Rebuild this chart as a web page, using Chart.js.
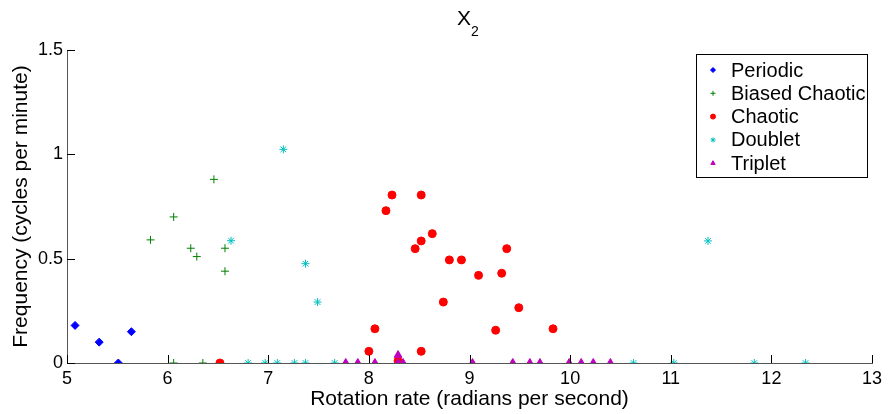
<!DOCTYPE html>
<html>
<head>
<meta charset="utf-8">
<script src="https://cdn.jsdelivr.net/npm/chart.js@4/dist/chart.umd.min.js"></script>
<style>
html, body { margin: 0; padding: 0; background: #fff; }
</style>
</head>
<body>
<canvas id="scatter-chart" width="889" height="414"></canvas>
<script>
(function () {
	"use strict";

	// values
	var periodicX = [5.08, 5.32, 5.51, 5.64];
	var periodicY = [0.18, 0.10, 0, 0.15];

	var biasedX = [5.83, 6.06, 6.06, 6.23, 6.29, 6.35, 6.46, 6.57, 6.57];
	var biasedY = [0.59, 0.70, 0, 0.55, 0.51, 0, 0.88, 0.55, 0.44];

	var chaoticX = [6.52, 8.00, 8.06, 8.17, 8.23, 8.29, 8.46, 8.52, 8.52, 8.52, 8.63, 8.74, 8.80, 8.92, 9.09, 9.26, 9.32, 9.37, 9.49, 9.83];
	var chaoticY = [0, 0.056, 0.164, 0.73, 0.805, 0.01, 0.548, 0.585, 0.805, 0.056, 0.62, 0.292, 0.494, 0.494, 0.42, 0.157, 0.43, 0.548, 0.265, 0.164];

	var doubletX = [6.63, 6.80, 6.97, 7.09, 7.15, 7.26, 7.37, 7.37, 7.49, 7.66, 10.63, 11.03, 11.37, 11.83, 12.34];
	var doubletY = [0.586, 0, 0, 0, 1.024, 0, 0, 0.476, 0.292, 0, 0, 0, 0.585, 0, 0];

	var tripletX = [7.77, 7.89, 8.06, 8.29, 8.29, 8.34, 9.03, 9.43, 9.60, 9.70, 9.99, 10.11, 10.23, 10.40];
	var tripletY = [0, 0, 0, 0.038, 0, 0, 0, 0, 0, 0, 0, 0, 0, 0];

	var xTicks = [5, 6, 7, 8, 9, 10, 11, 12, 13];
	var yTicks = [0, 0.5, 1, 1.5];

	function pts(xs, ys) {
		return xs.map(function (x, i) { return { x: x, y: ys[i] }; });
	}

	var FONT = "'Liberation Sans', Arial, Helvetica, sans-serif";

	var series = [
		{ label: "Periodic", data: pts(periodicX, periodicY), color: "#0000ff", style: "rectRot", r: 4 },
		{ label: "Biased Chaotic", data: pts(biasedX, biasedY), color: "#008000", style: "cross", r: 4 },
		{ label: "Chaotic", data: pts(chaoticX, chaoticY), color: "#ff0000", style: "circle", r: 4 },
		{ label: "Doublet", data: pts(doubletX, doubletY), color: "#00bfbf", style: "star", r: 4 },
		{ label: "Triplet", data: pts(tripletX, tripletY), color: "#bf00bf", style: "triangle", r: 4.5 },
	];

	// inward tick marks, title with subscript, boxed legend
	var decorations = {
		id: "decorations",
		afterDraw: function (chart) {
			var ctx = chart.ctx;
			var xs = chart.scales.x, ys = chart.scales.y;
			var area = chart.chartArea;
			ctx.save();
			ctx.strokeStyle = "#000";
			ctx.lineWidth = 1;
			xTicks.forEach(function (v) {
				var px = Math.round(xs.getPixelForValue(v)) + 0.5;
				ctx.beginPath();
				ctx.moveTo(px, area.bottom);
				ctx.lineTo(px, area.bottom - 8);
				ctx.stroke();
			});
			yTicks.forEach(function (v) {
				var py = Math.round(ys.getPixelForValue(v)) + 0.5;
				ctx.beginPath();
				ctx.moveTo(area.left, py);
				ctx.lineTo(area.left + 8, py);
				ctx.stroke();
			});

			// title X_2
			ctx.fillStyle = "#000";
			ctx.textBaseline = "alphabetic";
			ctx.textAlign = "left";
			ctx.font = "21px " + FONT;
			ctx.fillText("X", 457, 25);
			ctx.font = "14px " + FONT;
			ctx.fillText("2", 471, 36);

			// legend
			var lx = 696, ly = 54, lw = 171, lh = 123;
			ctx.fillStyle = "#fff";
			ctx.fillRect(lx, ly, lw, lh);
			ctx.strokeStyle = "#000";
			ctx.strokeRect(lx + 0.5, ly + 0.5, lw, lh);
			ctx.font = "20px " + FONT;
			ctx.textBaseline = "middle";
			series.forEach(function (s, i) {
				var cy = 70 + i * 23.3;
				ctx.fillStyle = s.color;
				ctx.strokeStyle = s.color;
				Chart.helpers.drawPoint(ctx, { pointStyle: s.style, rotation: 0, radius: 2.5, borderWidth: 1 }, 713, cy);
				ctx.fillStyle = "#000";
				ctx.fillText(s.label, 731, cy + 1);
			});
			ctx.restore();
		},
	};

	var ctx = document.getElementById("scatter-chart").getContext("2d");
	new Chart(ctx, {
		type: "scatter",
		data: {
			datasets: series.map(function (s, i) {
				return {
					label: s.label,
					data: s.data,
					pointStyle: s.style,
					pointRadius: s.r,
					backgroundColor: s.color,
					borderColor: s.color,
					borderWidth: 1,
					order: series.length - i,
				};
			}),
		},
		options: {
			responsive: false,
			animation: false,
			layout: { padding: { top: 50, right: 17, left: 0, bottom: 0 } },
			plugins: {
				legend: { display: false },
				tooltip: { enabled: false },
			},
			scales: {
				x: {
					type: "linear",
					min: 5,
					max: 13,
					afterBuildTicks: function (s) { s.ticks = xTicks.map(function (v) { return { value: v }; }); },
					ticks: { color: "#000", font: { size: 18, family: FONT }, padding: 5, callback: function (v) { return String(v); } },
					grid: { display: false, drawTicks: false },
					border: { color: "#555" },
					title: { display: true, text: "Rotation rate (radians per second)", color: "#000", font: { size: 21, family: FONT }, padding: { top: 0, bottom: 2 } },
					afterFit: function (s) { s.height = 51; },
				},
				y: {
					min: 0,
					max: 1.5,
					afterBuildTicks: function (s) { s.ticks = yTicks.map(function (v) { return { value: v }; }); },
					ticks: { color: "#000", font: { size: 18, family: FONT }, padding: 4, callback: function (v) { return String(v); } },
					grid: { display: false, drawTicks: false },
					border: { color: "#555" },
					title: { display: true, text: "Frequency (cycles per minute)", color: "#000", font: { size: 21, family: FONT }, padding: { top: 9, bottom: 0 } },
					afterFit: function (s) { s.width = 67; },
				},
			},
		},
		plugins: [decorations],
	});
})();
</script>
</body>
</html>
